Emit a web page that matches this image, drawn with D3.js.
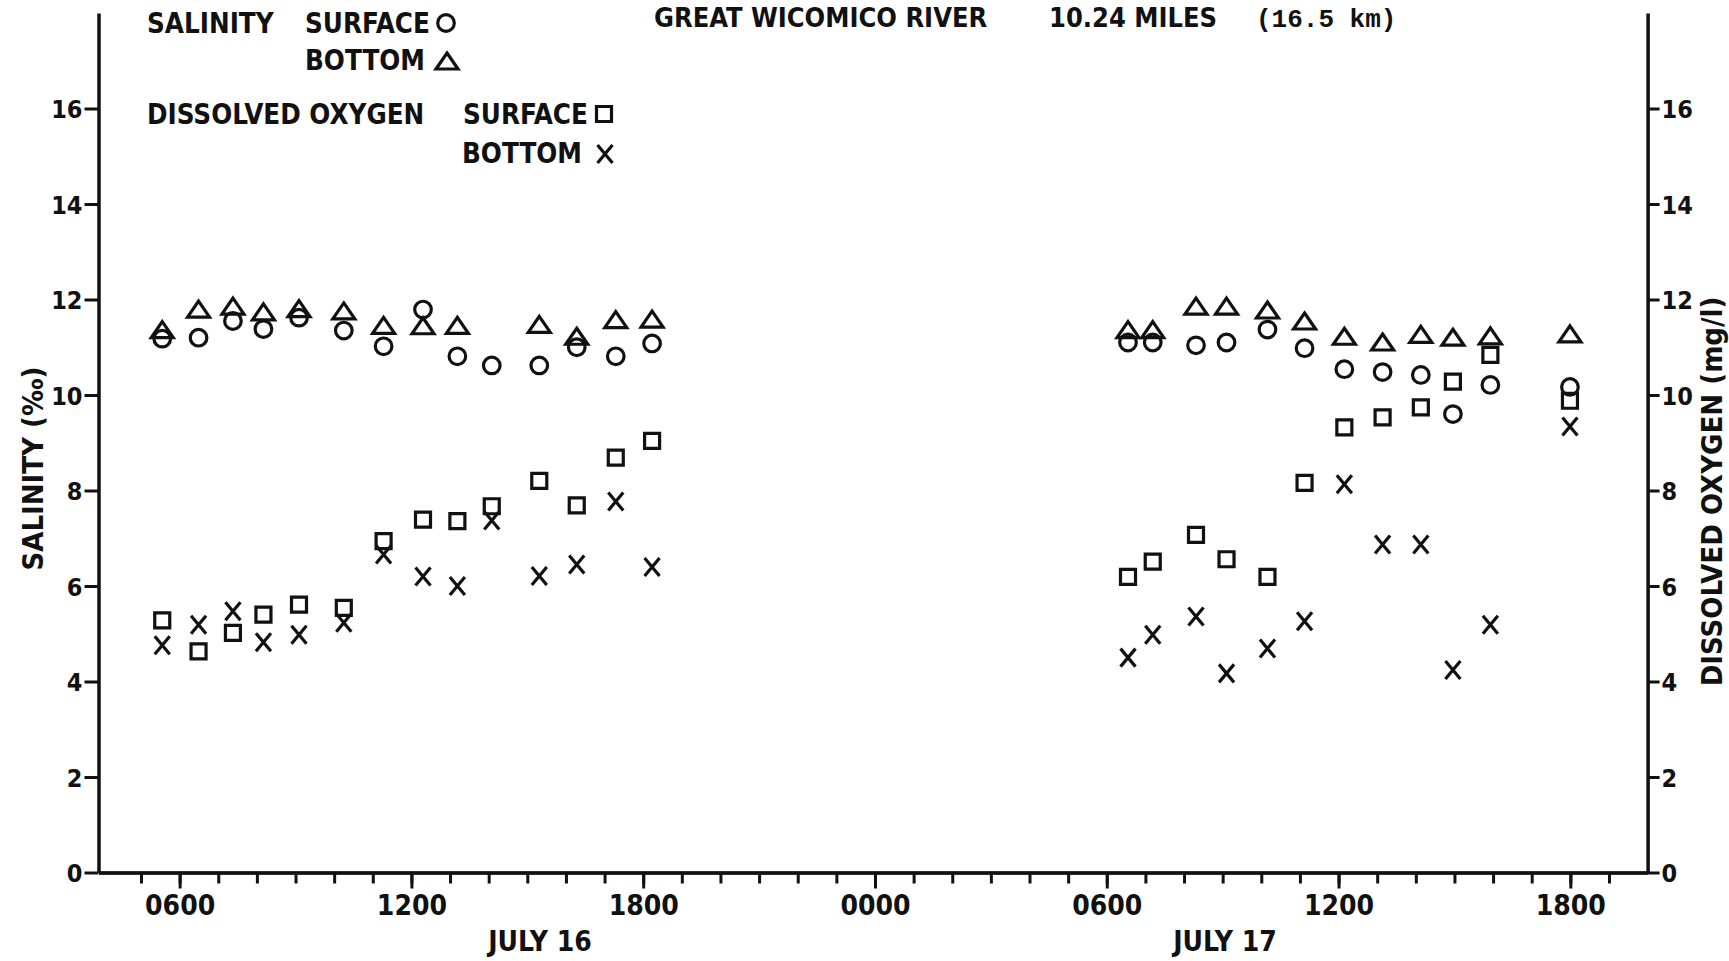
<!DOCTYPE html>
<html>
<head>
<meta charset="utf-8">
<script src="https://cdn.jsdelivr.net/npm/d3@7"></script>
<style>
  html, body { margin: 0; padding: 0; background: #fff; }
  svg { display: block; }
  .lbl { font-family: "DejaVu Sans Condensed", "DejaVu Sans", sans-serif; font-stretch: condensed; font-weight: bold; fill: #111; }
</style>
</head>
<body>
<svg id="chart" width="1729" height="961"></svg>
<script>
// ---------------- DATA ----------------
// sample times, hours since 0000 on July 16
const sampleHours = [5.55, 6.49, 7.38, 8.17, 9.09, 10.25, 11.28, 12.30, 13.19, 14.08, 15.31, 16.28, 17.29, 18.23,
                     30.55, 31.19, 32.31, 33.10, 34.16, 35.12, 36.15, 37.14, 38.13, 38.96, 39.93, 41.99];
// salinity (‰), surface (circles)
const salinitySurface = [11.18, 11.20, 11.55, 11.38, 11.62, 11.35, 11.02, 11.79, 10.81, 10.62, 10.62, 11.00, 10.81, 11.08,
                         11.10, 11.10, 11.04, 11.10, 11.37, 10.98, 10.54, 10.48, 10.42, 9.60, 10.21, 10.17];
// salinity (‰), bottom (triangles)
const salinityBottom = [11.37, 11.80, 11.86, 11.74, 11.81, 11.76, 11.46, 11.45, 11.46, null, 11.48, 11.23, 11.58, 11.59,
                        11.37, 11.37, 11.86, 11.86, 11.78, 11.55, 11.23, 11.11, 11.27, 11.21, 11.24, 11.28];
// dissolved oxygen (mg/l), surface (squares)
const oxygenSurface = [5.28, 4.63, 5.02, 5.40, 5.61, 5.54, 6.94, 7.39, 7.36, 7.67, 8.20, 7.69, 8.69, 9.04,
                       6.19, 6.51, 7.07, 6.56, 6.19, 8.16, 9.32, 9.53, 9.74, 10.28, 10.84, 9.88];
// dissolved oxygen (mg/l), bottom (X)
const oxygenBottom = [4.76, 5.19, 5.47, 4.82, 4.98, 5.23, 6.66, 6.20, 6.00, 7.37, 6.21, 6.45, 7.77, 6.40,
                      4.50, 4.98, 5.36, 4.17, 4.69, 5.26, 8.13, 6.87, 6.87, 4.24, 5.19, 9.34];

const yTickValues = [0, 2, 4, 6, 8, 10, 12, 14, 16];
const xMajorTicks = [6, 12, 18, 24, 30, 36, 42];
const xMinorTicks = d3.range(5, 44);
const dayLabels = [{ label: "JULY 16", hour: 15.33 }, { label: "JULY 17", hour: 33.06 }];
const titleParts = ["GREAT WICOMICO RIVER", "10.24 MILES", "(16.5 km)"];
const leftTitle = "SALINITY (‰)";
const rightTitle = "DISSOLVED OXYGEN (mg/l)";

// ---------------- CHART ----------------
const svg = d3.select("#chart");
const x = d3.scaleLinear().domain([3.9, 44]).range([98.5, 1647.6]);
const y = d3.scaleLinear().domain([0, 18]).range([872.5, 13]);
const INK = "#111";
const SW = 3.2;

const fmtHour = h => String((h % 24) * 100).padStart(4, "0");

// left axis
const gL = svg.append("g").attr("transform", `translate(${x(3.9)},0)`)
  .call(d3.axisLeft(y).tickValues(yTickValues).tickSize(14).tickSizeOuter(0).tickPadding(2)
        .tickFormat(d3.format("d")));
// right axis
const gR = svg.append("g").attr("transform", `translate(${x(44)},0)`)
  .call(d3.axisRight(y).tickValues(yTickValues).tickSize(12).tickSizeOuter(0).tickPadding(2)
        .tickFormat(d3.format("d")));
// bottom axis: minor ticks
const gBm = svg.append("g").attr("transform", `translate(0,${y(0)})`)
  .call(d3.axisBottom(x).tickValues(xMinorTicks).tickSize(11).tickSizeOuter(0).tickFormat(""));
// bottom axis: major ticks with labels
const gB = svg.append("g").attr("transform", `translate(0,${y(0)})`)
  .call(d3.axisBottom(x).tickValues(xMajorTicks).tickSize(16).tickSizeOuter(0).tickFormat(fmtHour));

[gL, gR, gBm, gB].forEach(g => {
  g.select(".domain").attr("stroke", INK).attr("stroke-width", 3.5);
  g.selectAll(".tick line").attr("stroke", INK).attr("stroke-width", 3);
  g.selectAll(".tick text").attr("class", "lbl").attr("fill", INK);
});
gL.selectAll(".tick text").style("font-size", "25px").attr("dy", "0.36em");
gR.selectAll(".tick text").style("font-size", "25px").attr("dy", "0.36em");
gB.selectAll(".tick text").style("font-size", "28px").attr("y", 42).attr("dy", 0);
gB.select(".domain").attr("stroke-width", 3);

// axis titles
svg.append("text").attr("class", "lbl")
  .attr("transform", `translate(43,${y(8.46)}) rotate(-90)`)
  .attr("text-anchor", "middle").style("font-size", "29px").text(leftTitle);
svg.append("text").attr("class", "lbl")
  .attr("transform", `translate(1722,${y(7.98)}) rotate(-90)`)
  .attr("text-anchor", "middle").style("font-size", "29px").text(rightTitle);

// day labels
svg.selectAll(".day").data(dayLabels).join("text")
  .attr("class", "lbl").attr("x", d => x(d.hour)).attr("y", 951)
  .attr("text-anchor", "middle").style("font-size", "28px").text(d => d.label);

// title (top)
svg.append("text").attr("class", "lbl").attr("x", 654).attr("y", 27)
  .style("font-size", "27px").text(titleParts[0]);
svg.append("text").attr("class", "lbl").attr("x", 1049).attr("y", 27)
  .style("font-size", "27px").text(titleParts[1]);
svg.append("text").attr("x", 1256).attr("y", 27)
  .style("font-family", "'Liberation Mono', monospace").style("font-weight", "bold")
  .style("font-size", "26px").attr("fill", INK).text(titleParts[2]);

// marker shapes
const triPath = "M0,-8L11,8L-11,8Z";
const sqPath = "M-7.5,-7.5H7.5V7.5H-7.5Z";
const xPath = "M-7.5,-9L7.5,9M7.5,-9L-7.5,9";

function drawSeries(values, kind) {
  const pts = sampleHours.map((h, i) => ({ h, v: values[i] })).filter(d => d.v != null);
  const g = svg.append("g").attr("fill", "none").attr("stroke", INK).attr("stroke-width", SW);
  if (kind === "circle") {
    g.selectAll("circle").data(pts).join("circle")
      .attr("cx", d => x(d.h)).attr("cy", d => y(d.v)).attr("r", 8.3);
  } else {
    const p = kind === "tri" ? triPath : kind === "sq" ? sqPath : xPath;
    g.selectAll("path").data(pts).join("path")
      .attr("d", p).attr("transform", d => `translate(${x(d.h)},${y(d.v)})`);
  }
}
drawSeries(salinitySurface, "circle");
drawSeries(salinityBottom, "tri");
drawSeries(oxygenSurface, "sq");
drawSeries(oxygenBottom, "x");

// legend
const leg = svg.append("g");
const legText = (t, xx, yy) => leg.append("text").attr("class", "lbl").attr("x", xx).attr("y", yy)
  .style("font-size", "27.5px").text(t);
legText("SALINITY", 147, 33);
legText("SURFACE", 305, 33);
legText("BOTTOM", 305, 70);
legText("DISSOLVED OXYGEN", 147, 124);
legText("SURFACE", 463, 124);
legText("BOTTOM", 462, 163);
const lg = leg.append("g").attr("fill", "none").attr("stroke", INK).attr("stroke-width", SW);
lg.append("circle").attr("cx", 446).attr("cy", 23).attr("r", 8.3);
lg.append("path").attr("d", triPath).attr("transform", "translate(447,61)");
lg.append("path").attr("d", sqPath).attr("transform", "translate(604,114)");
lg.append("path").attr("d", xPath).attr("transform", "translate(605,154)");
</script>
</body>
</html>
